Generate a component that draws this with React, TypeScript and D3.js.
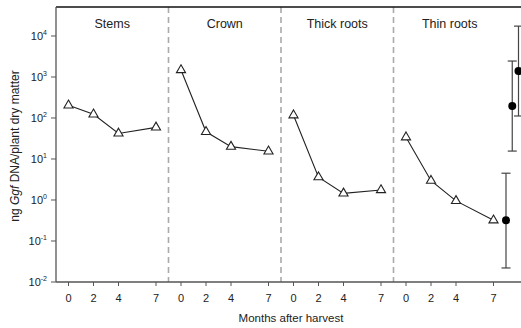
import React from 'react';
import * as d3 from 'd3';

const panels = ['Stems', 'Crown', 'Thick roots', 'Thin roots'];
const months = [0, 2, 4, 7];
const stems = [204, 123, 42, 59];
const crown = [1480, 46, 20, 15.4];
const thickRoots = [117, 3.6, 1.45, 1.75];
const thinRoots = [34, 2.96, 0.95, 0.32];
const series = [stems, crown, thickRoots, thinRoots];
// filled points with error bars, right of the thin roots panel
const extraMonths = [8, 8.5, 9];
const extraValues = [0.32, 195, 1400];
const extraLow = [0.022, 15.6, 112];
const extraHigh = [4.5, 2450, 17400];
const yTicks = [-2, -1, 0, 1, 2, 3, 4];

const W = 521;
const H = 328;
const left = 56;
const top = 7;
const bottom = 282;
const panelSpan = 9;

export default function App() {
  const x = d3.scaleLinear().domain([-1, 37]).range([left, left + 38 * 12.5]);
  const y = d3.scaleLog().domain([1e-2, Math.pow(10, 4.707)]).range([bottom, top]);
  const line = d3.line<[number, number]>().x(d => x(d[0])).y(d => y(d[1]));
  const tri = d3.symbol().type(d3.symbolTriangle).size(36);
  const font = 'Liberation Sans, Arial, sans-serif';
  const lastOff = 3 * panelSpan;

  return (
    <svg width={W} height={H} style={{ position: 'absolute', left: 0, top: 0 }} fontFamily={font}>
      <rect width={W} height={H} fill="#fff" />
      {/* dashed panel separators */}
      {[1, 2, 3].map(i => (
        <line key={i} x1={x(i * panelSpan - 1)} x2={x(i * panelSpan - 1)} y1={top} y2={bottom}
          stroke="#aaa" strokeWidth={1.6} strokeDasharray="6,4" />
      ))}
      {/* frame */}
      <line x1={left} x2={W} y1={top} y2={top} stroke="#111" strokeWidth={1.3} />
      <line x1={left} x2={left} y1={top} y2={bottom} stroke="#555" strokeWidth={1.3} />
      <line x1={left} x2={W} y1={bottom} y2={bottom} stroke="#555" strokeWidth={1.3} />
      {/* y ticks */}
      {yTicks.map(e => (
        <g key={e} transform={`translate(0,${y(Math.pow(10, e))})`}>
          <line x1={left - 5} x2={left} stroke="#555" />
          <text x={left - 9} y={4} textAnchor="end" fontSize={11} fill="#222">
            10<tspan dy={-5} fontSize={7}>{e}</tspan>
          </text>
        </g>
      ))}
      {/* x ticks */}
      {panels.map((p, i) => months.map(m => (
        <g key={p + m} transform={`translate(${x(i * panelSpan + m)},${bottom})`}>
          <line y1={0} y2={4} stroke="#555" />
          <text y={20} textAnchor="middle" fontSize={11} fill="#222">{m}</text>
        </g>
      )))}
      {/* panel titles */}
      {panels.map((p, i) => (
        <text key={p} x={x(i * panelSpan + 3.5)} y={28} textAnchor="middle" fontSize={12.5} fill="#222">{p}</text>
      ))}
      {/* series */}
      {series.map((s, i) => {
        const pts = months.map((m, j) => [i * panelSpan + m, s[j]] as [number, number]);
        return (
          <g key={i}>
            <path d={line(pts) || ''} fill="none" stroke="#222" strokeWidth={1.1} />
            {pts.map((d, j) => (
              <path key={j} d={tri() || ''} transform={`translate(${x(d[0])},${y(d[1])})`}
                fill="#fff" stroke="#222" strokeWidth={1.1} />
            ))}
          </g>
        );
      })}
      {/* error bars */}
      {extraMonths.map((m, i) => {
        const cx = x(lastOff + m);
        return (
          <g key={i} stroke="#444" strokeWidth={1.2}>
            <line x1={cx} x2={cx} y1={y(extraLow[i])} y2={y(extraHigh[i])} />
            <line x1={cx - 4.5} x2={cx + 4.5} y1={y(extraLow[i])} y2={y(extraLow[i])} />
            <line x1={cx - 4.5} x2={cx + 4.5} y1={y(extraHigh[i])} y2={y(extraHigh[i])} />
            <circle cx={cx} cy={y(extraValues[i])} r={4} fill="#000" stroke="none" />
          </g>
        );
      })}
      {/* axis labels */}
      <text transform={`translate(19,146) rotate(-90)`} textAnchor="middle" fontSize={12} fill="#222">
        ng <tspan fontStyle="italic">Ggf</tspan> DNA/plant dry matter
      </text>
      <text x={291} y={322} textAnchor="middle" fontSize={11.5} fill="#222">Months after harvest</text>
    </svg>
  );
}
